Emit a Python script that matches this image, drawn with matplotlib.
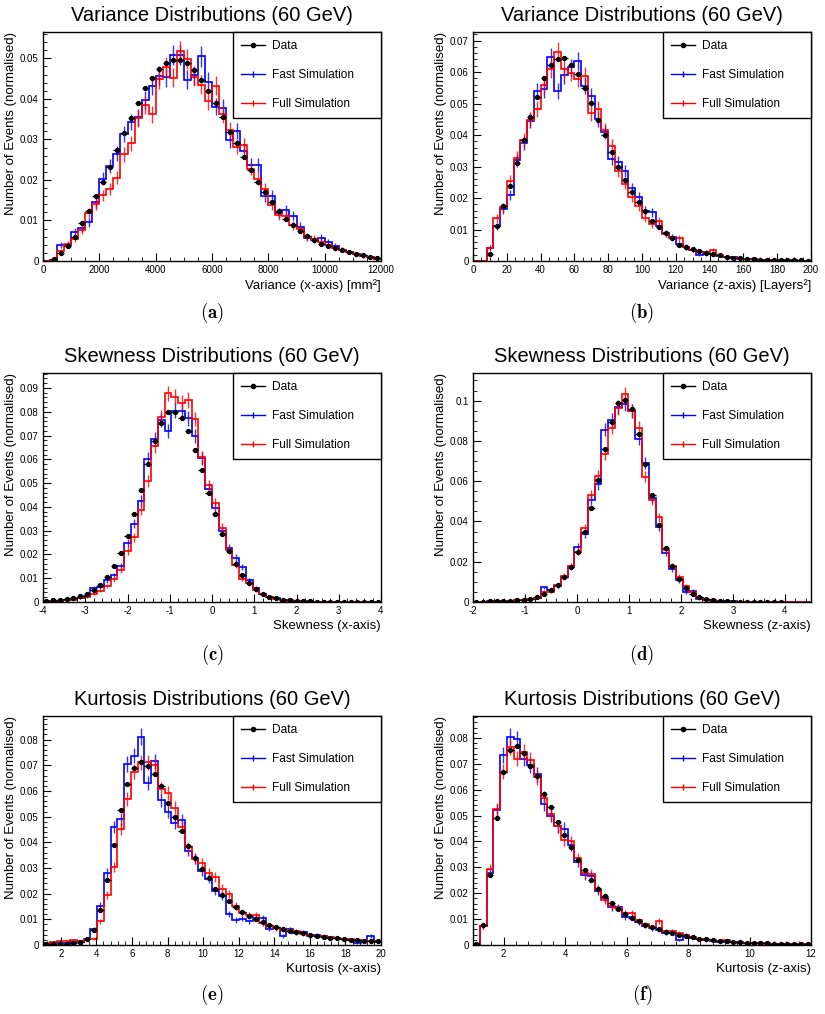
import numpy as np
import matplotlib.pyplot as plt
from matplotlib.lines import Line2D
from matplotlib.ticker import AutoMinorLocator, MultipleLocator, FuncFormatter

plt.rcParams['font.family'] = ['Liberation Sans', 'DejaVu Sans']
plt.rcParams['mathtext.fontset'] = 'cm'

# ---- values (normalised bin contents) ----
# (a) variance, x-axis: 48 bins 0..12000
var_x_data = [0, 0.0004, 0.002, 0.0036, 0.006, 0.0093, 0.0124, 0.0161, 0.0196, 0.0233,
              0.0273, 0.0315, 0.0352, 0.039, 0.0427, 0.0452, 0.0474, 0.0489, 0.0497, 0.0496,
              0.0488, 0.0472, 0.0447, 0.042, 0.0389, 0.0356, 0.0319, 0.029, 0.0257, 0.0224,
              0.0195, 0.017, 0.0145, 0.0124, 0.0103, 0.0089, 0.0075, 0.0062, 0.0051, 0.0043,
              0.0037, 0.0031, 0.0026, 0.0022, 0.0018, 0.0014, 0.0011, 0.0008]
var_x_fast = [0, 0.0002, 0.004, 0.004, 0.0072, 0.0082, 0.0095, 0.0145, 0.0203, 0.0235,
              0.0265, 0.0313, 0.0343, 0.0355, 0.0397, 0.0432, 0.0457, 0.0453, 0.0508, 0.0508,
              0.0447, 0.0458, 0.0505, 0.0442, 0.0381, 0.0378, 0.0298, 0.032, 0.0272, 0.0237,
              0.0238, 0.016, 0.016, 0.0118, 0.0125, 0.0112, 0.0085, 0.0057, 0.0052, 0.0057,
              0.0047, 0.0037, 0.0028, 0.0022, 0.0018, 0.0012, 0.001, 0.0005]
var_x_full = [0, 0.0002, 0.0025, 0.0042, 0.0055, 0.0077, 0.0118, 0.014, 0.0162, 0.0178,
              0.0205, 0.0263, 0.029, 0.0352, 0.0385, 0.0362, 0.0448, 0.0478, 0.0452, 0.0518,
              0.0498, 0.0455, 0.0435, 0.0395, 0.0432, 0.0362, 0.0323, 0.0282, 0.0285, 0.0228,
              0.0203, 0.0178, 0.0138, 0.0113, 0.0112, 0.0088, 0.0078, 0.006, 0.0055, 0.0047,
              0.004, 0.0032, 0.0027, 0.0022, 0.0018, 0.0012, 0.0009, 0.0005]

# (b) variance, z-axis: 50 bins 0..200
var_z_data = [0, 0, 0.0022, 0.011, 0.0176, 0.0237, 0.031, 0.0385, 0.0457, 0.0522,
              0.058, 0.0623, 0.0642, 0.0643, 0.0622, 0.0595, 0.055, 0.0502, 0.0447, 0.04,
              0.0345, 0.03, 0.0257, 0.022, 0.0186, 0.0158, 0.0128, 0.0107, 0.0089, 0.0072,
              0.0051, 0.0043, 0.0038, 0.0032, 0.0026, 0.0022, 0.0018, 0.0013, 0.001, 0.0008,
              0.0007, 0.0005, 0.0004, 0.0004, 0.0003, 0.0003, 0.0002, 0.0002, 0.0002, 0.0001]
var_z_fast = [0, 0, 0.0042, 0.011, 0.0165, 0.021, 0.032, 0.0375, 0.0445, 0.054,
              0.0545, 0.0648, 0.054, 0.059, 0.0615, 0.0635, 0.0555, 0.0525, 0.045, 0.041,
              0.0325, 0.0315, 0.0285, 0.0232, 0.0203, 0.016, 0.0155, 0.0112, 0.0088, 0.0075,
              0.0055, 0.0043, 0.0035, 0.002, 0.0022, 0.0022, 0.0017, 0.0012, 0.0013, 0.0008,
              0.0006, 0.0005, 0.0004, 0.0003, 0.0003, 0.0002, 0.0002, 0.0002, 0.0001, 0.0001]
var_z_full = [0, 0, 0.004, 0.0135, 0.017, 0.0255, 0.0328, 0.0385, 0.0448, 0.0483,
              0.0558, 0.0608, 0.0665, 0.061, 0.0598, 0.0578, 0.0588, 0.047, 0.0483, 0.0415,
              0.0365, 0.0285, 0.0245, 0.0202, 0.0175, 0.0138, 0.0118, 0.0128, 0.0085, 0.0072,
              0.0072, 0.0045, 0.0035, 0.0028, 0.0028, 0.0035, 0.0018, 0.0012, 0.0009, 0.0006,
              0.0005, 0.0005, 0.0004, 0.0003, 0.0003, 0.0002, 0.0002, 0.0002, 0.0001, 0.0001]

# (c) skewness, x-axis: 50 bins -4..4
skew_x_data = [0.0005, 0.0007, 0.0008, 0.0012, 0.0017, 0.0025, 0.0035, 0.0052, 0.0072, 0.0105,
               0.015, 0.0205, 0.0278, 0.0372, 0.047, 0.0582, 0.0678, 0.0752, 0.0797, 0.08,
               0.0775, 0.072, 0.0638, 0.0557, 0.046, 0.0368, 0.0287, 0.0215, 0.0158, 0.0115,
               0.008, 0.0055, 0.0035, 0.0022, 0.0015, 0.001, 0.0008, 0.0005, 0.0004, 0.0003,
               0.0002, 0.0002, 0.0001, 0.0001, 0.0001, 0.0001, 0.0001, 0.0001, 0.0001, 0.0001]
skew_x_fast = [0.0003, 0.0004, 0.0006, 0.0008, 0.0012, 0.0015, 0.0025, 0.0058, 0.0062, 0.0092,
               0.0112, 0.0152, 0.0248, 0.033, 0.0425, 0.0602, 0.0685, 0.0765, 0.0718, 0.0805,
               0.0805, 0.0772, 0.0697, 0.0605, 0.0475, 0.0395, 0.0298, 0.0228, 0.0185, 0.0148,
               0.0092, 0.0058, 0.0035, 0.0022, 0.0015, 0.001, 0.0007, 0.0005, 0.0004, 0.0003,
               0.0002, 0.0002, 0.0001, 0.0001, 0.0001, 0.0001, 0.0001, 0.0001, 0.0001, 0.0001]
skew_x_full = [0.0002, 0.0003, 0.0005, 0.0007, 0.001, 0.0015, 0.002, 0.0035, 0.0048, 0.0068,
               0.0095, 0.0135, 0.0215, 0.0272, 0.0388, 0.0508, 0.0655, 0.0778, 0.0877, 0.0863,
               0.0838, 0.085, 0.077, 0.0608, 0.049, 0.0415, 0.0312, 0.0218, 0.0155, 0.0098,
               0.0078, 0.005, 0.0032, 0.002, 0.0013, 0.0008, 0.0006, 0.0005, 0.0004, 0.0003,
               0.0002, 0.0002, 0.0001, 0.0001, 0.0001, 0.0001, 0.0001, 0.0001, 0.0001, 0.0001]

# (d) skewness, z-axis: 50 bins -2..4.5
skew_z_data = [0.0002, 0.0002, 0.0003, 0.0004, 0.0005, 0.0007, 0.0009, 0.0012, 0.0017, 0.0025,
               0.004, 0.006, 0.0082, 0.0122, 0.0173, 0.025, 0.0347, 0.0465, 0.0605, 0.0762,
               0.0895, 0.0987, 0.1005, 0.096, 0.0835, 0.0685, 0.053, 0.038, 0.0267, 0.0177,
               0.0113, 0.0068, 0.0042, 0.0023, 0.0013, 0.0008, 0.0005, 0.0003, 0.0002, 0.0002,
               0.0001, 0.0001, 0.0001, 0.0001, 0.0001, 0.0001, 0, 0, 0, 0]
skew_z_fast = [0.0002, 0.0002, 0.0003, 0.0003, 0.0004, 0.0006, 0.001, 0.0012, 0.0015, 0.0022,
               0.0072, 0.0058, 0.008, 0.0125, 0.0172, 0.0275, 0.034, 0.0505, 0.0585, 0.0855,
               0.0905, 0.0968, 0.0985, 0.0948, 0.081, 0.069, 0.0515, 0.0372, 0.0245, 0.0165,
               0.0108, 0.005, 0.0055, 0.0015, 0.0012, 0.0007, 0.0005, 0.0005, 0.0003, 0.0002,
               0.0002, 0.0001, 0.0001, 0.0001, 0.0001, 0.0001, 0, 0, 0, 0]
skew_z_full = [0.0001, 0.0002, 0.0002, 0.0003, 0.0004, 0.0005, 0.0008, 0.001, 0.0015, 0.002,
               0.005, 0.0052, 0.0082, 0.013, 0.0178, 0.025, 0.0368, 0.0532, 0.0625, 0.0735,
               0.0865, 0.0962, 0.1032, 0.0948, 0.0865, 0.0622, 0.0505, 0.042, 0.026, 0.0178,
               0.0125, 0.0078, 0.0048, 0.0022, 0.0012, 0.0008, 0.0005, 0.0003, 0.0002, 0.0002,
               0.0001, 0.0001, 0.0001, 0.0001, 0.0001, 0, 0, 0, 0, 0]

# (e) kurtosis, x-axis: 50 bins 1..20
kurt_x_data = [0.0003, 0.0003, 0.0003, 0.0005, 0.0008, 0.0012, 0.0025, 0.006, 0.0135, 0.0255,
               0.039, 0.0525, 0.0627, 0.069, 0.0712, 0.0698, 0.0665, 0.062, 0.0555, 0.0498,
               0.0443, 0.0387, 0.034, 0.0297, 0.026, 0.022, 0.0195, 0.017, 0.0147, 0.013,
               0.0113, 0.01, 0.0088, 0.0078, 0.007, 0.0063, 0.0056, 0.005, 0.0045, 0.004,
               0.0036, 0.0032, 0.0029, 0.0026, 0.0023, 0.0021, 0.0018, 0.0016, 0.0015, 0.0014]
kurt_x_fast = [0.0005, 0.0006, 0.0008, 0.0008, 0.0012, 0.0013, 0.0022, 0.0062, 0.0152, 0.028,
               0.046, 0.049, 0.0705, 0.0738, 0.0812, 0.063, 0.0715, 0.0563, 0.052, 0.0475,
               0.0485, 0.0368, 0.0338, 0.0288, 0.0258, 0.021, 0.0192, 0.0122, 0.0098, 0.0103,
               0.0092, 0.0105, 0.0105, 0.0063, 0.0068, 0.0035, 0.0062, 0.0048, 0.005, 0.0035,
               0.0038, 0.0034, 0.0028, 0.0026, 0.0022, 0.0018, 0.0008, 0.0015, 0.0035, 0.0012]
kurt_x_full = [0.0008, 0.001, 0.0015, 0.0015, 0.0018, 0.0015, 0.0022, 0.0025, 0.0092, 0.0195,
               0.0305, 0.0452, 0.057, 0.0675, 0.0712, 0.0712, 0.07, 0.0608, 0.0592, 0.0535,
               0.046, 0.038, 0.0335, 0.032, 0.028, 0.0265, 0.022, 0.0198, 0.0152, 0.0125,
               0.0118, 0.0118, 0.0085, 0.0075, 0.0065, 0.006, 0.006, 0.0055, 0.0042, 0.004,
               0.0037, 0.0035, 0.003, 0.0028, 0.0025, 0.0022, 0.002, 0.0018, 0.0016, 0.0014]

# (f) kurtosis, z-axis: 50 bins 1..12
kurt_z_data = [0.0005, 0.0078, 0.027, 0.049, 0.0668, 0.0753, 0.077, 0.0742, 0.0693, 0.0652,
               0.0585, 0.0535, 0.0477, 0.0427, 0.0377, 0.033, 0.0288, 0.025, 0.0217, 0.0188,
               0.0163, 0.014, 0.012, 0.0106, 0.0092, 0.0078, 0.0068, 0.006, 0.0052, 0.0045,
               0.0039, 0.0033, 0.0029, 0.0025, 0.0022, 0.0019, 0.0016, 0.0014, 0.0012, 0.001,
               0.0009, 0.0008, 0.0007, 0.0006, 0.0005, 0.0004, 0.0004, 0.0003, 0.0003, 0.0002]
kurt_z_fast = [0, 0.0072, 0.028, 0.052, 0.0735, 0.0805, 0.0795, 0.072, 0.0695, 0.066,
               0.0545, 0.05, 0.0458, 0.045, 0.0385, 0.032, 0.027, 0.0265, 0.021, 0.018,
               0.0145, 0.0145, 0.0108, 0.0108, 0.0088, 0.0075, 0.0065, 0.0058, 0.0048, 0.0045,
               0.002, 0.0035, 0.0028, 0.0025, 0.0018, 0.0015, 0.0012, 0.0012, 0.001, 0.0008,
               0.0009, 0.0007, 0.0008, 0.0006, 0.0005, 0.0005, 0.0004, 0.0003, 0.0003, 0.0002]
kurt_z_full = [0, 0.0072, 0.0295, 0.0525, 0.067, 0.0765, 0.072, 0.0745, 0.0715, 0.0648,
               0.057, 0.0505, 0.0458, 0.0405, 0.04, 0.0335, 0.0278, 0.0275, 0.0215, 0.0172,
               0.015, 0.0143, 0.0122, 0.0122, 0.0095, 0.008, 0.0068, 0.0092, 0.0055, 0.0055,
               0.0045, 0.004, 0.003, 0.0025, 0.002, 0.0018, 0.0015, 0.0018, 0.0012, 0.001,
               0.0008, 0.0007, 0.0006, 0.0005, 0.0005, 0.0004, 0.0003, 0.0003, 0.0003, 0.0002]

titles = ['Variance Distributions (60 GeV)', 'Variance Distributions (60 GeV)',
          'Skewness Distributions (60 GeV)', 'Skewness Distributions (60 GeV)',
          'Kurtosis Distributions (60 GeV)', 'Kurtosis Distributions (60 GeV)']
xlabels = ['Variance (x-axis) [mm²]', 'Variance (z-axis) [Layers²]',
           'Skewness (x-axis)', 'Skewness (z-axis)',
           'Kurtosis (x-axis)', 'Kurtosis (z-axis)']
tags = ['(a)', '(b)', '(c)', '(d)', '(e)', '(f)']
legend_labels = ['Data', 'Fast Simulation', 'Full Simulation']
n_sim = 8000  # events per simulated sample, used for the stat. error bars

panels = [
    dict(data=var_x_data, fast=var_x_fast, full=var_x_full, rng=(0, 12000), ymax=0.0565, xmaj=2000, ymaj=0.01),
    dict(data=var_z_data, fast=var_z_fast, full=var_z_full, rng=(0, 200), ymax=0.0727, xmaj=20, ymaj=0.01),
    dict(data=skew_x_data, fast=skew_x_fast, full=skew_x_full, rng=(-4, 4), ymax=0.0963, xmaj=1, ymaj=0.01),
    dict(data=skew_z_data, fast=skew_z_fast, full=skew_z_full, rng=(-2, 4.5), ymax=0.1137, xmaj=1, ymaj=0.02),
    dict(data=kurt_x_data, fast=kurt_x_fast, full=kurt_x_full, rng=(1, 20), ymax=0.0892, xmaj=2, ymaj=0.01),
    dict(data=kurt_z_data, fast=kurt_z_fast, full=kurt_z_full, rng=(1, 12), ymax=0.0885, xmaj=2, ymaj=0.01),
]

W, H = 825, 1014
fig = plt.figure(figsize=(W / 100, H / 100), dpi=100)

col_left = [43, 473]
row_top = [32, 373, 716]
ax_w, ax_h = 338, 229
tag_y = [313, 655, 995]

handles = [Line2D([], [], color='black', marker='o', ms=3, lw=1),
           Line2D([], [], color='blue', marker='|', ms=4, lw=1),
           Line2D([], [], color='red', marker='|', ms=4, lw=1)]

for i, p in enumerate(panels):
    r, c = divmod(i, 2)
    x0 = col_left[c]
    y0 = row_top[r]
    ax = fig.add_axes([x0 / W, 1 - (y0 + ax_h) / H, ax_w / W, ax_h / H])

    data = np.array(p['data'])
    fast = np.array(p['fast'])
    full = np.array(p['full'])
    edges = np.linspace(p['rng'][0], p['rng'][1], len(data) + 1)
    centers = 0.5 * (edges[:-1] + edges[1:])
    half = 0.5 * (edges[1] - edges[0])

    for vals, col in [(fast, 'blue'), (full, 'red')]:
        ax.stairs(vals, edges, color=col, lw=1.2, baseline=None)
        m = vals > 0
        ax.errorbar(centers[m], vals[m], yerr=np.sqrt(vals[m] / n_sim), fmt='none',
                    ecolor=col, elinewidth=1, alpha=0.8)
    m = data > 0
    ax.errorbar(centers[m], data[m], xerr=half, fmt='o', color='black', ms=2.8,
                elinewidth=1, capsize=0)

    ax.set_xlim(*p['rng'])
    ax.set_ylim(0, p['ymax'])
    ax.xaxis.set_major_locator(MultipleLocator(p['xmaj']))
    ax.xaxis.set_minor_locator(AutoMinorLocator(4 if p['xmaj'] in (2000, 20) else 5))
    ax.yaxis.set_major_locator(MultipleLocator(p['ymaj']))
    ax.yaxis.set_minor_locator(AutoMinorLocator(5 if p['ymaj'] == 0.01 else 4))
    ax.yaxis.set_major_formatter(FuncFormatter(lambda v, pos: '%g' % round(v, 4)))
    ax.xaxis.set_major_formatter(FuncFormatter(lambda v, pos: '%g' % round(v, 4)))
    ax.tick_params(which='both', direction='in', top=False, right=False, labelsize=7, pad=3)
    ax.tick_params(which='major', length=6)
    ax.tick_params(which='minor', length=3)
    for s in ax.spines.values():
        s.set_linewidth(1)

    ax.set_title(titles[i], fontsize=14.5, pad=8)
    ax.set_xlabel(xlabels[i], fontsize=9.5, loc='right', labelpad=3)
    ax.set_ylabel('Number of Events (normalised)', fontsize=9.5, loc='top', labelpad=2)

    leg = ax.legend(handles, legend_labels, loc='upper left', bbox_to_anchor=(0.562, 0, 0.438, 1.0),
                    mode='expand', borderaxespad=0, fancybox=False, edgecolor='black', framealpha=1,
                    fontsize=8.6, handlelength=2.0, handletextpad=0.6, labelspacing=1.4, borderpad=0.7)
    leg.get_frame().set_linewidth(1)

    fig.text((x0 + ax_w / 2) / W, 1 - tag_y[r] / H, r'$\mathbf{%s}$' % tags[i],
             ha='center', va='center', fontsize=13.5)

fig.savefig('out.png', dpi=100)
